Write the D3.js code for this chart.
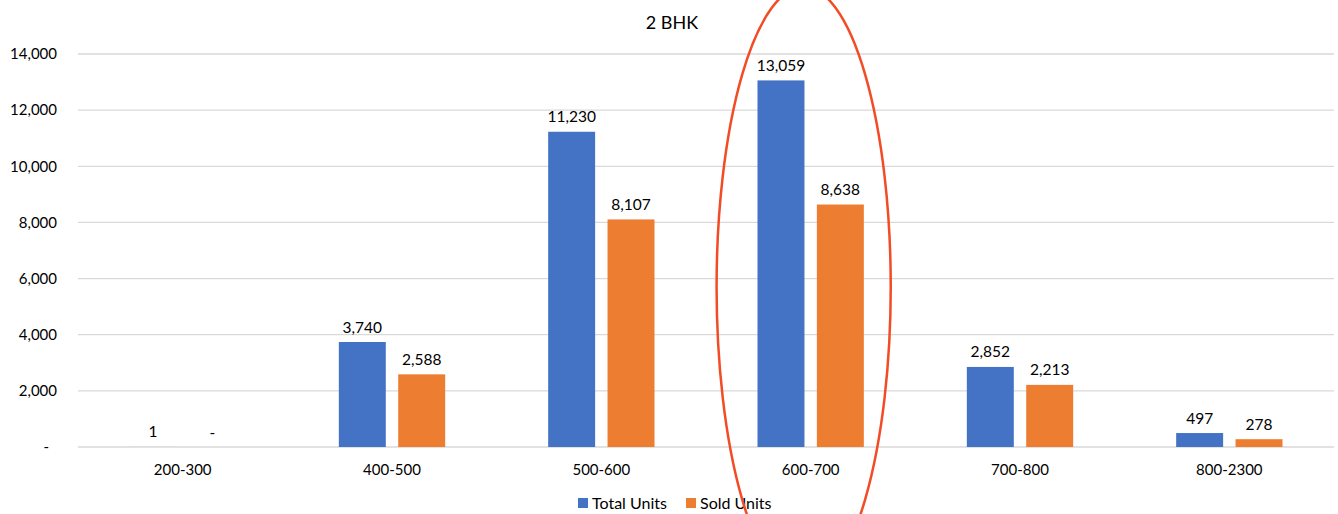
<!DOCTYPE html>
<html>
<head>
<meta charset="utf-8">
<script src="https://cdn.jsdelivr.net/npm/d3@7"></script>
<style>
  html, body { margin: 0; padding: 0; background: #fff; }
  svg { display: block; font-family: Lato, "Open Sans", sans-serif; }
</style>
</head>
<body>
<svg id="chart" width="1338" height="514"></svg>
<script>
// Unit-size buckets (sq ft) for 2 BHK
const categories = ["200-300", "400-500", "500-600", "600-700", "700-800", "800-2300"];
const seriesNames = ["Total Units", "Sold Units"];
const totalUnits = [1, 3740, 11230, 13059, 2852, 497];
const soldUnits = [0, 2588, 8107, 8638, 2213, 278];
const yTicks = [0, 2000, 4000, 6000, 8000, 10000, 12000, 14000];
const highlighted = "600-700";

const colors = { "Total Units": "#4472c4", "Sold Units": "#ed7d31" };

const rows = categories.map((c, i) => ({
  category: c,
  values: [
    { series: "Total Units", value: totalUnits[i] },
    { series: "Sold Units", value: soldUnits[i] }
  ]
}));

const svg = d3.select("#chart");
const plot = { left: 78, right: 1334, top: 54, bottom: 447 };

const x0 = d3.scaleBand().domain(categories).range([plot.left, plot.right]).padding(0);
const bw = x0.bandwidth();
const x1 = d3.scaleBand().domain(seriesNames)
  .range([bw * 0.246, bw * 0.754]).paddingInner(0.209).paddingOuter(0);
const y = d3.scaleLinear().domain([0, 14000]).range([plot.bottom, plot.top]);

const fmt = d3.format(",");

// Gridlines
svg.append("g")
  .selectAll("line")
  .data(yTicks)
  .join("line")
  .attr("x1", plot.left).attr("x2", plot.right)
  .attr("y1", d => y(d)).attr("y2", d => y(d))
  .attr("stroke", "#d9d9d9").attr("stroke-width", 1.3);

// Y axis labels
const yAxis = svg.append("g")
  .attr("transform", `translate(${plot.left - 21},0)`)
  .call(d3.axisLeft(y).tickValues(yTicks).tickSize(0).tickPadding(0)
    .tickFormat(d => d === 0 ? "-" : fmt(d)));
yAxis.select(".domain").remove();
yAxis.selectAll("text")
  .attr("fill", "#000").style("font-size", "15px").style("font-family", "Lato, sans-serif")
  .attr("dx", d => d === 0 ? -8 : 0);

// X axis labels
const xAxis = svg.append("g")
  .attr("transform", `translate(0,${plot.bottom})`)
  .call(d3.axisBottom(x0).tickSize(0).tickPadding(17));
xAxis.select(".domain").remove();
xAxis.selectAll("text")
  .attr("fill", "#000").style("font-size", "15px").style("font-family", "Lato, sans-serif");

// Bars
const groups = svg.append("g")
  .selectAll("g")
  .data(rows)
  .join("g")
  .attr("transform", d => `translate(${x0(d.category)},0)`);

groups.selectAll("rect")
  .data(d => d.values)
  .join("rect")
  .attr("x", d => x1(d.series))
  .attr("width", x1.bandwidth())
  .attr("y", d => y(d.value))
  .attr("height", d => y(0) - y(d.value))
  .attr("fill", d => colors[d.series]);

// Value labels
groups.selectAll("text")
  .data(d => d.values)
  .join("text")
  .attr("x", d => x1(d.series) + x1.bandwidth() / 2)
  .attr("y", d => y(d.value) - 9.5)
  .attr("text-anchor", "middle")
  .attr("fill", "#000")
  .style("font-size", "15.5px")
  .text(d => d.value === 0 ? "-" : fmt(d.value));

// Title
svg.append("text")
  .attr("x", (plot.left + plot.right) / 2 - 34)
  .attr("y", 29)
  .attr("text-anchor", "middle")
  .attr("fill", "#000")
  .style("font-size", "18px")
  .text("2 BHK");

// Legend
const legendItems = [
  { name: "Total Units", x: 578 },
  { name: "Sold Units", x: 686 }
];
const legend = svg.append("g");
legendItems.forEach(item => {
  legend.append("rect")
    .attr("x", item.x).attr("y", 498)
    .attr("width", 10).attr("height", 10)
    .attr("fill", colors[item.name]);
  legend.append("text")
    .attr("x", item.x + 14).attr("y", 509)
    .attr("fill", "#000")
    .style("font-size", "16px")
    .text(item.name);
});

// Highlight ring around the peak bucket
const hx = x0(highlighted) + bw / 2 - 7;
svg.append("ellipse")
  .attr("cx", hx)
  .attr("cy", y(5700))
  .attr("rx", bw * 0.416)
  .attr("ry", 300)
  .attr("fill", "none")
  .attr("stroke", "#f24b25")
  .attr("stroke-width", 2.5);
</script>
</body>
</html>
